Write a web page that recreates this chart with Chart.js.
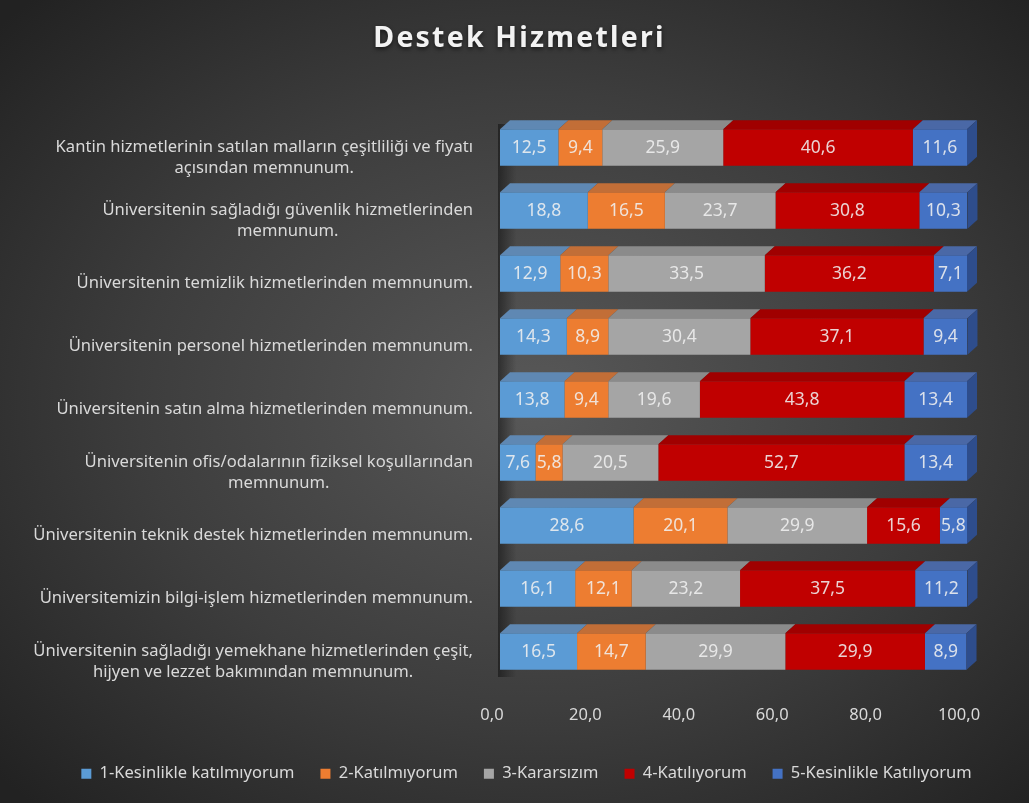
<!DOCTYPE html>
<html>
<head>
<meta charset="utf-8">
<script src="https://cdn.jsdelivr.net/npm/chart.js@4.4.0/dist/chart.umd.min.js"></script>
<style>
    html, body { margin: 0; padding: 0; }
    body {
        width: 1029px; height: 803px; overflow: hidden;
        background: radial-gradient(ellipse 70% 70% at 52% 50%, #585858 0%, #3d3d3d 55%, #222 100%);
    }
    #wrap { position: relative; width: 1029px; height: 803px; }
</style>
</head>
<body>
<div id="wrap"><canvas id="destek-chart"></canvas></div>
<script>
const chartTitle = 'Destek Hizmetleri';

const categories = [
    ['Kantin hizmetlerinin satılan malların çeşitliliği ve fiyatı', 'açısından memnunum.'],
    ['Üniversitenin sağladığı güvenlik hizmetlerinden', 'memnunum.'],
    ['Üniversitenin temizlik hizmetlerinden memnunum.'],
    ['Üniversitenin personel hizmetlerinden memnunum.'],
    ['Üniversitenin satın alma hizmetlerinden memnunum.'],
    ['Üniversitenin ofis/odalarının fiziksel koşullarından', 'memnunum.'],
    ['Üniversitenin teknik destek hizmetlerinden memnunum.'],
    ['Üniversitemizin bilgi-işlem hizmetlerinden memnunum.'],
    ['Üniversitenin sağladığı yemekhane hizmetlerinden çeşit,', 'hijyen ve lezzet bakımından memnunum.']
];

const seriesNames = ['1-Kesinlikle katılmıyorum', '2-Katılmıyorum', '3-Kararsızım', '4-Katılıyorum', '5-Kesinlikle Katılıyorum'];

const kesinlikleKatilmiyorum = [12.5, 18.8, 12.9, 14.3, 13.8, 7.6, 28.6, 16.1, 16.5];
const katilmiyorum = [9.4, 16.5, 10.3, 8.9, 9.4, 5.8, 20.1, 12.1, 14.7];
const kararsizim = [25.9, 23.7, 33.5, 30.4, 19.6, 20.5, 29.9, 23.2, 29.9];
const katiliyorum = [40.6, 30.8, 36.2, 37.1, 43.8, 52.7, 15.6, 37.5, 29.9];
const kesinlikleKatiliyorum = [11.6, 10.3, 7.1, 9.4, 13.4, 13.4, 5.8, 11.2, 8.9];

const xTicks = [0, 20, 40, 60, 80, 100];

// front / top / side shades for the fake 3d bars
const frontColors = ['#5b9bd5', '#ed7d31', '#a5a5a5', '#c00000', '#4472c4'];
const topColors = ['#5f88b3', '#c26e37', '#8b8b8b', '#a00000', '#4a68a6'];
const sideColor = '#2e4d8c';

const labelFont = '"Noto Sans", sans-serif';
const depthX = 10, depthY = 9;

function fmt(v) {
    return v.toFixed(1).replace('.', ',');
}

const bars3d = {
    id: 'bars3d',
    beforeDatasetsDraw(chart) {
        const {ctx, chartArea} = chart;
        // faint side wall on the left, only seen between the bars
        const g = ctx.createLinearGradient(chartArea.left - 2, 0, chartArea.left + 16, 0);
        g.addColorStop(0, 'rgba(10,10,10,0.5)');
        g.addColorStop(1, 'rgba(10,10,10,0)');
        ctx.save();
        ctx.fillStyle = g;
        ctx.fillRect(chartArea.left - 2, chartArea.top + 8, 18, chartArea.bottom - chartArea.top - 14);
        ctx.restore();
    },
    afterDatasetsDraw(chart) {
        const {ctx} = chart;
        const n = chart.data.datasets.length;
        ctx.save();
        chart.data.datasets.forEach((ds, di) => {
            const meta = chart.getDatasetMeta(di);
            meta.data.forEach(bar => {
                const left = Math.min(bar.base, bar.x), right = Math.max(bar.base, bar.x);
                const top = bar.y - bar.height / 2, bottom = bar.y + bar.height / 2;
                ctx.fillStyle = topColors[di];
                ctx.beginPath();
                ctx.moveTo(left, top);
                ctx.lineTo(right, top);
                ctx.lineTo(right + depthX, top - depthY);
                ctx.lineTo(left + depthX, top - depthY);
                ctx.closePath();
                ctx.fill();
                if (di === n - 1) {
                    ctx.fillStyle = sideColor;
                    ctx.beginPath();
                    ctx.moveTo(right, top);
                    ctx.lineTo(right + depthX, top - depthY);
                    ctx.lineTo(right + depthX, bottom - depthY);
                    ctx.lineTo(right, bottom);
                    ctx.closePath();
                    ctx.fill();
                }
            });
        });
        // value labels
        ctx.font = '17.5px ' + labelFont;
        ctx.textAlign = 'center';
        ctx.textBaseline = 'middle';
        ctx.fillStyle = 'rgba(240,240,240,0.88)';
        chart.data.datasets.forEach((ds, di) => {
            chart.getDatasetMeta(di).data.forEach((bar, i) => {
                ctx.fillText(fmt(ds.data[i]), (bar.x + bar.base) / 2, bar.y + 1);
            });
        });
        ctx.restore();
    },
    afterDraw(chart) {
        const {ctx, chartArea, scales} = chart;
        ctx.save();
        // category labels, widest line right-aligned, others centred under it
        ctx.font = '16.6px ' + labelFont;
        ctx.fillStyle = '#d9d9d9';
        ctx.textAlign = 'center';
        ctx.textBaseline = 'middle';
        const rightEdge = chartArea.left - 27;
        const lineH = 21;
        categories.forEach((lines, i) => {
            const yc = scales.y.getPixelForValue(i) + 10;
            const maxW = Math.max(...lines.map(l => ctx.measureText(l).width));
            const cx = rightEdge - maxW / 2;
            lines.forEach((l, k) => {
                ctx.fillText(l, cx, yc - (lines.length - 1) * lineH / 2 + k * lineH);
            });
        });
        // title
        ctx.font = 'bold 28.5px ' + labelFont;
        ctx.letterSpacing = '2.2px';
        ctx.shadowColor = 'rgba(0,0,0,0.6)';
        ctx.shadowBlur = 4;
        ctx.shadowOffsetY = 2;
        ctx.fillStyle = '#f2f2f2';
        ctx.fillText(chartTitle, chart.width / 2 + 5, 39);
        ctx.restore();
    }
};

const datasetsData = [kesinlikleKatilmiyorum, katilmiyorum, kararsizim, katiliyorum, kesinlikleKatiliyorum];

new Chart(document.getElementById('destek-chart'), {
    type: 'bar',
    data: {
        labels: categories,
        datasets: datasetsData.map((d, i) => ({
            label: seriesNames[i],
            data: d,
            backgroundColor: frontColors[i],
            borderWidth: 0,
            barPercentage: 0.58,
            categoryPercentage: 1
        }))
    },
    options: {
        indexAxis: 'y',
        responsive: true,
        maintainAspectRatio: false,
        devicePixelRatio: 1,
        animation: false,
        layout: {
            padding: {top: 116, bottom: 11, left: 24}
        },
        scales: {
            x: {
                stacked: true,
                min: 0,
                max: 100,
                afterBuildTicks: scale => {
                    scale.ticks = xTicks.map(v => ({value: v}));
                },
                afterFit: scale => { scale.height = 56.5; },
                grid: {display: false},
                border: {display: false},
                ticks: {
                    color: '#d9d9d9',
                    font: {family: labelFont, size: 16.5},
                    padding: 14,
                    labelOffset: -8,
                    callback: v => fmt(v)
                }
            },
            y: {
                stacked: true,
                grid: {display: false},
                border: {display: false},
                ticks: {display: false},
                afterFit: scale => { scale.width = 476; }
            },
            yRight: {
                position: 'right',
                type: 'linear',
                grid: {display: false},
                border: {display: false},
                ticks: {display: false},
                afterFit: scale => { scale.width = 62; }
            }
        },
        plugins: {
            legend: {
                position: 'bottom',
                labels: {
                    color: '#d9d9d9',
                    font: {family: labelFont, size: 16.5},
                    boxWidth: 10,
                    boxHeight: 10,
                    padding: 26
                }
            },
            tooltip: {enabled: false}
        }
    },
    plugins: [bars3d]
});
</script>
</body>
</html>
